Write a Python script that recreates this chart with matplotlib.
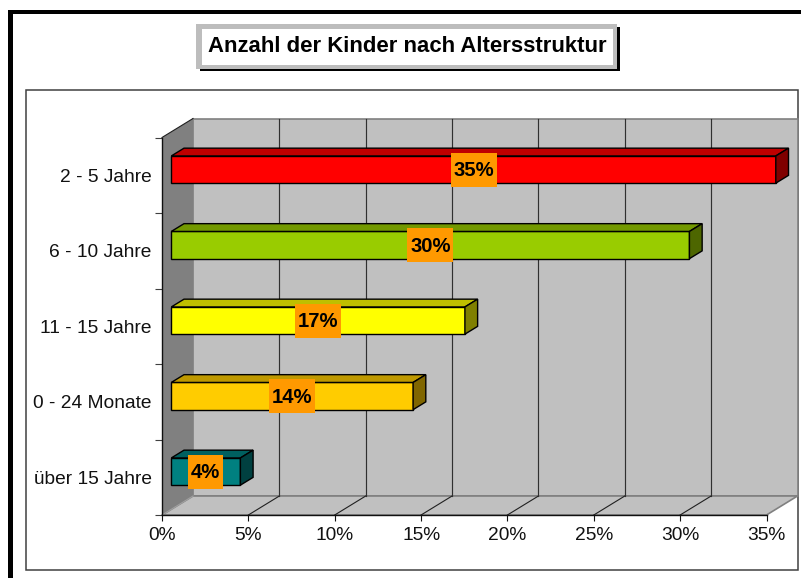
import matplotlib
matplotlib.use("Agg")
import matplotlib.pyplot as plt
from matplotlib.patches import Rectangle
from matplotlib.colors import to_rgb

plt.rcParams['font.family'] = ['Liberation Sans', 'DejaVu Sans']

title = "Anzahl der Kinder nach Altersstruktur"
categories = ["2 - 5 Jahre", "6 - 10 Jahre", "11 - 15 Jahre", "0 - 24 Monate", "über 15 Jahre"]
values = [35, 30, 17, 14, 4]
bar_colors = ["#FF0000", "#99CC00", "#FFFF00", "#FFCC00", "#008080"]
x_ticks = [0, 5, 10, 15, 20, 25, 30, 35]

W, H = 801, 578
fig = plt.figure(figsize=(W / 100, H / 100), dpi=100, facecolor="white")

# page furniture, in pixel coordinates
bg = fig.add_axes([0, 0, 1, 1], zorder=0)
bg.set_xlim(0, W); bg.set_ylim(H, 0); bg.axis("off")
def box(x0, y0, x1, y1, **kw):
    kw.setdefault("lw", 0)
    bg.add_patch(Rectangle((x0, y0), x1 - x0, y1 - y0, **kw))
box(8, 10, W + 5, 13.5, fc="black")
box(8, 10, 12.5, H + 5, fc="black")
box(25.5, 89.5, 797.5, 570, fc="white", ec="#404040", lw=1.1)
box(200, 27, 620, 70.5, fc="black")
box(196, 24, 617, 69, fc="#BDBDBD")
box(201.5, 29, 612.5, 65, fc="white")
bg.text(407, 46.5, title, ha="center", va="center", fontsize=15.9, fontweight="bold", color="black")

# plot plane
L, R, T, B = 162.0, 766.5, 137.5, 515.0
ax = fig.add_axes([L / W, 1 - B / H, (R - L) / W, (B - T) / H], zorder=1)
ax.patch.set_visible(False)
ax.set_xlim(0, 35)
n = len(categories)
ax.set_ylim(n, 0)
px_x = 35 / (R - L)
px_y = n / (B - T)
DX, DY = 31 * px_x, 19 * px_y
def dep(x, y, f=1.0):
    return x + f * DX, y - f * DY

def poly(pts, **kw):
    xs, ys = zip(*pts)
    kw.setdefault("clip_on", False)
    ax.fill(xs, ys, **kw)

# walls and floor
poly([dep(0, n), dep(35, n), dep(35, 0), dep(0, 0)], fc="#C0C0C0", ec="#808080", lw=1.2, zorder=1)
poly([(0, n), dep(0, n), dep(0, 0), (0, 0)], fc="#808080", ec="none", zorder=1.1)
poly([(0, n), (35, n), dep(35, n), dep(0, n)], fc="#C0C0C0", ec="#808080", lw=1.2, zorder=1.2)
ax.plot(*zip((0, 0), dep(0, 0)), color="#202020", lw=0.8, clip_on=False, zorder=1.3)
ax.plot(*zip((0, n), dep(0, n)), color="#A0A0A0", lw=0.8, clip_on=False, zorder=1.3)

# gridlines
for t in x_ticks[1:-1]:
    ax.plot(*zip((t, n), dep(t, n)), color="#202020", lw=0.8, clip_on=False, zorder=1.4)
    ax.plot(*zip(dep(t, n), dep(t, 0)), color="#303030", lw=0.85, clip_on=False, zorder=1.4)

# bars
F0, F1 = 0.30, 0.71
bar_h = 27.2 * px_y
ypos = [i + 0.5 for i in range(n)]
x0, _ = dep(0, 0, F0)
def shade(c, k):
    return tuple(k * v for v in to_rgb(c))
for y, v, c in zip(ypos, values, bar_colors):
    yc = dep(0, y, F0)[1]
    ax.barh(yc, v, left=x0, height=bar_h, color=c, edgecolor="black", lw=1.0, zorder=3, clip_on=False)
    xe = x0 + v
    yt, yb = yc - bar_h / 2, yc + bar_h / 2
    d = F1 - F0
    poly([(x0, yt), (xe, yt), dep(xe, yt, d), dep(x0, yt, d)], fc=shade(c, 0.75), ec="black", lw=1.0, zorder=3)
    poly([(xe, yt), dep(xe, yt, d), dep(xe, yb, d), (xe, yb)], fc=shade(c, 0.5), ec="black", lw=1.0, zorder=3)
    label = f"{v}%"
    bw = (46 if len(label) == 3 else 35) * px_x
    bh = 34 * px_y
    xm = x0 + v / 2
    ax.add_patch(Rectangle((xm - bw / 2, yc - bh / 2), bw, bh, fc="#FF9900", ec="none", zorder=4, clip_on=False))
    ax.text(xm, yc + 1 * px_y, label, ha="center", va="center", fontsize=14.6, fontweight="bold", color="black", zorder=5)

# axes
for s in ("top", "right"):
    ax.spines[s].set_visible(False)
for s in ("left", "bottom"):
    ax.spines[s].set_color("#101010")
    ax.spines[s].set_linewidth(1.0)
    ax.spines[s].set_zorder(2)
ax.set_xticks(x_ticks)
ax.set_xticklabels([f"{t}%" for t in x_ticks], fontsize=13.8, color="#111111")
ax.tick_params(axis="x", length=4.3, width=0.8, pad=4.5, color="#101010")
ax.set_yticks(range(n + 1))
ax.set_yticklabels([])
ax.tick_params(axis="y", which="major", length=5.4, width=0.8, color="#404040")
ax.set_yticks(ypos, minor=True)
ax.set_yticklabels(categories, minor=True, fontsize=13.8, color="#111111")
ax.tick_params(axis="y", which="minor", length=0, pad=7.5)

fig.savefig("out.png", dpi=100)
